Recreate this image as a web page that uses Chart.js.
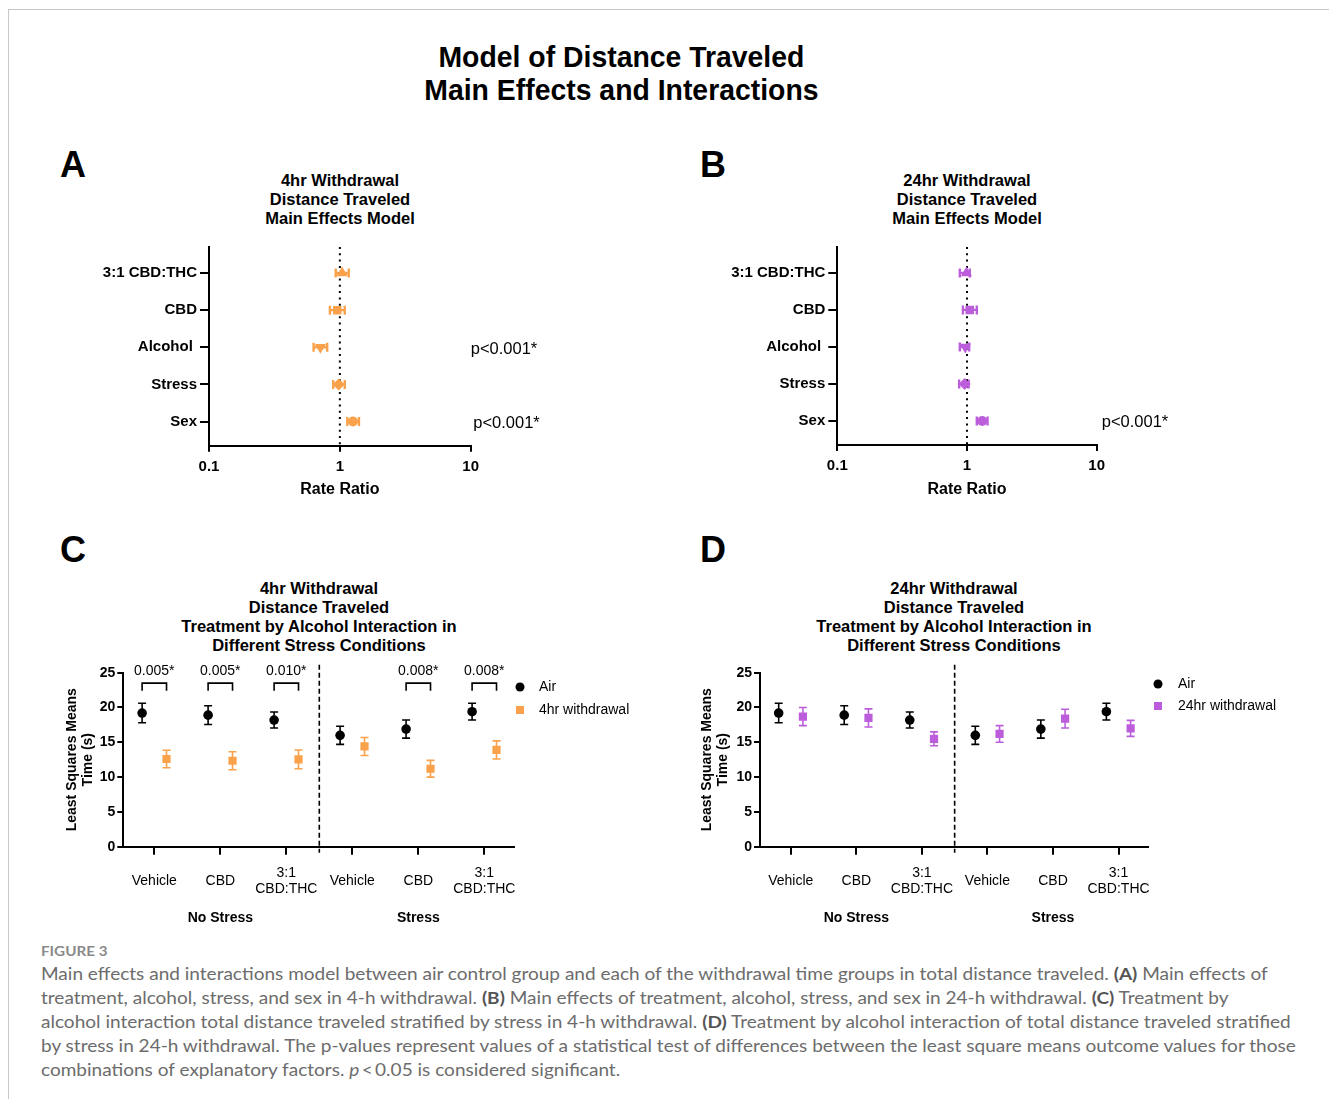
<!DOCTYPE html>
<html>
<head>
<meta charset="utf-8">
<title>Model of Distance Traveled</title>
<script src="https://cdn.jsdelivr.net/npm/chart.js@4.4.1/dist/chart.umd.min.js"></script>
<style>
  html, body { margin:0; padding:0; background:#ffffff; }
  body { width:1329px; height:1099px; position:relative; overflow:hidden; font-family:'Liberation Sans', Arial, Helvetica, sans-serif; color:#000; }
  .frame-top { position:absolute; left:8px; top:9px; width:1321px; height:1px; background:#c8c8c8; }
  .frame-left { position:absolute; left:8px; top:9px; width:1px; height:1090px; background:#c8c8c8; }
  .t { position:absolute; white-space:nowrap; }
  #mainTitle { left:0; width:1242px; top:40.5px; text-align:center; font-weight:bold; font-size:29px; line-height:33px; }
  #mainTitle span { display:inline-block; transform-origin:50% 50%; }
  .letter { font-weight:bold; font-size:36px; line-height:36px; }
  .ptitle { font-weight:bold; font-size:16.5px; line-height:19px; text-align:center; }
  canvas { position:absolute; }
  #caption { left:41px; top:940px; font-family:Lato, 'Open Sans', sans-serif; color:#6c6c6c; transform-origin:0 0; }
  #figLabel { font-size:14px; line-height:22px; color:#8a8a8a; font-weight:bold; }
  #capText { font-size:17.5px; line-height:24px; }
  #capText b { color:#555; }
</style>
</head>
<body>
<div class="frame-top"></div>
<div class="frame-left"></div>

<div id="mainTitle" class="t"><span id="mainTitleInner">Model of Distance Traveled<br>Main Effects and Interactions</span></div>

<div class="t letter" style="left:60px; top:147px;">A</div>
<div class="t letter" style="left:700px; top:147px;">B</div>
<div class="t letter" style="left:60px; top:532px;">C</div>
<div class="t letter" style="left:700px; top:532px;">D</div>

<div class="t ptitle" style="left:190px; width:300px; top:170.5px;">4hr Withdrawal<br>Distance Traveled<br>Main Effects Model</div>
<div class="t ptitle" style="left:817px; width:300px; top:170.5px;">24hr Withdrawal<br>Distance Traveled<br>Main Effects Model</div>
<div class="t ptitle" style="left:119px; width:400px; top:578.5px;">4hr Withdrawal<br>Distance Traveled<br>Treatment by Alcohol Interaction in<br>Different Stress Conditions</div>
<div class="t ptitle" style="left:754px; width:400px; top:578.5px;">24hr Withdrawal<br>Distance Traveled<br>Treatment by Alcohol Interaction in<br>Different Stress Conditions</div>

<canvas id="chartA" width="560" height="279" style="left:40px; top:231px; width:560px; height:279px;"></canvas>
<canvas id="chartB" width="560" height="279" style="left:670px; top:231px; width:560px; height:279px;"></canvas>
<canvas id="chartC" width="620" height="290" style="left:40px; top:650px; width:620px; height:290px;"></canvas>
<canvas id="chartD" width="620" height="290" style="left:675px; top:650px; width:620px; height:290px;"></canvas>

<div id="caption" class="t">
  <div id="figLabel">FIGURE 3</div>
  <div id="capText"><span id="capLine1">Main effects and interactions model between air control group and each of the withdrawal time groups in total distance traveled. <b>(A)</b> Main effects of</span><br>treatment, alcohol, stress, and sex in 4-h withdrawal. <b>(B)</b> Main effects of treatment, alcohol, stress, and sex in 24-h withdrawal. <b>(C)</b> Treatment by<br>alcohol interaction total distance traveled stratified by stress in 4-h withdrawal. <b>(D)</b> Treatment by alcohol interaction of total distance traveled stratified<br>by stress in 24-h withdrawal. The p-values represent values of a statistical test of differences between the least square means outcome values for those<br>combinations of explanatory factors. <i>p</i>&#8201;&lt;&#8201;0.05 is considered significant.</div>
</div>

<script>
// ---------------- DATA ----------------
const forestLabels = ['3:1 CBD:THC', 'CBD', 'Alcohol ', 'Stress', 'Sex'];
const rateTicks = [0.1, 1, 10];
const rr4 = [1.04, 0.955, 0.71, 0.98, 1.26];
const rr4Low = [0.93, 0.84, 0.63, 0.89, 1.14];
const rr4High = [1.17, 1.09, 0.80, 1.09, 1.40];
const rr24 = [0.99, 1.05, 0.97, 0.96, 1.31];
const rr24Low = [0.88, 0.93, 0.88, 0.87, 1.19];
const rr24High = [1.05, 1.19, 1.04, 1.03, 1.44];
const forestP4 = [null, null, 'p<0.001*', null, 'p<0.001*'];
const forestP24 = [null, null, null, null, 'p<0.001*'];

const treatments = ['Vehicle', 'CBD', ['3:1', 'CBD:THC'], 'Vehicle', 'CBD', ['3:1', 'CBD:THC']];
const stressGroups = ['No Stress', 'Stress'];
const yTicksLSM = [0, 5, 10, 15, 20, 25];
const airMean = [19.2, 18.9, 18.2, 16.0, 16.9, 19.4];
const airErr = [1.4, 1.35, 1.15, 1.3, 1.3, 1.2];
const w4Mean = [12.6, 12.35, 12.55, 14.4, 11.2, 13.9];
const w4Err = [1.25, 1.3, 1.35, 1.3, 1.2, 1.3];
const w24Mean = [18.7, 18.5, 15.5, 16.2, 18.4, 17.0];
const w24Err = [1.3, 1.3, 1.0, 1.2, 1.35, 1.15];
const pairP4 = ['0.005*', '0.005*', '0.010*', null, '0.008*', '0.008*'];
const pairP24 = [null, null, null, null, null, null];

// ---------------- STYLE ----------------
const FONT = "'Liberation Sans', Arial, Helvetica, sans-serif";
const ORANGE = '#FAA24B';
const PURPLE = '#BC5EDC';
Chart.defaults.font.family = FONT;
Chart.defaults.color = '#000';
Chart.defaults.animation = false;

const forestMarkers = ['triangle', 'rect', 'triangle', 'rectRot', 'circle'];
const forestRot = [0, 0, 180, 0, 0];
const forestRadius = [6.5, 6, 6.5, 6, 5];

// error bars drawn through the chart's own scales
const errorBarPlugin = {
  id: 'errorBars',
  beforeDatasetsDraw(chart) {
    const ctx = chart.ctx, xs = chart.scales.x, ys = chart.scales.y;
    chart.data.datasets.forEach(ds => {
      if (!ds.errorBars) return;
      ctx.save();
      ctx.strokeStyle = ds.borderColor;
      ctx.lineWidth = ds.errorLineWidth;
      const cap = ds.errorCap;
      ds.data.forEach((p, i) => {
        const lo = ds.errorBars[i][0], hi = ds.errorBars[i][1];
        ctx.beginPath();
        if (ds.errorAxis === 'x') {
          const y = ys.getPixelForValue(p.y), a = xs.getPixelForValue(lo), b = xs.getPixelForValue(hi);
          ctx.moveTo(a, y); ctx.lineTo(b, y);
          ctx.moveTo(a, y - cap); ctx.lineTo(a, y + cap);
          ctx.moveTo(b, y - cap); ctx.lineTo(b, y + cap);
        } else {
          const x = xs.getPixelForValue(p.x), a = ys.getPixelForValue(lo), b = ys.getPixelForValue(hi);
          ctx.moveTo(x, a); ctx.lineTo(x, b);
          ctx.moveTo(x - cap, a); ctx.lineTo(x + cap, a);
          ctx.moveTo(x - cap, b); ctx.lineTo(x + cap, b);
        }
        ctx.stroke();
      });
      ctx.restore();
    });
  }
};

const refLinePlugin = {
  id: 'refLine',
  beforeDatasetsDraw(chart) {
    const ctx = chart.ctx, ca = chart.chartArea, xs = chart.scales.x;
    const px = xs.getPixelForValue(1);
    ctx.save();
    ctx.strokeStyle = '#000';
    ctx.lineWidth = 2;
    ctx.setLineDash([2, 4.3]);
    ctx.beginPath();
    ctx.moveTo(px, ca.top);
    ctx.lineTo(px, ca.bottom);
    ctx.stroke();
    ctx.restore();
  }
};

function forestPPlugin(texts, dx) {
  return {
    id: 'forestP',
    afterDraw(chart) {
      const ctx = chart.ctx, ca = chart.chartArea, ys = chart.scales.y;
      const n = forestLabels.length;
      ctx.save();
      ctx.font = '16.5px ' + FONT;
      ctx.fillStyle = '#000';
      ctx.textAlign = 'left';
      ctx.textBaseline = 'middle';
      texts.forEach((t, i) => {
        if (!t) return;
        ctx.fillText(t, ca.right + dx[i], ys.getPixelForValue(n - i) + 2);
      });
      ctx.restore();
    }
  };
}

function forestChart(id, vals, lows, highs, color, pTexts, pDx, geo) {
  const n = forestLabels.length;
  return new Chart(document.getElementById(id), {
    type: 'scatter',
    data: {
      datasets: [{
        label: id,
        data: vals.map((v, i) => ({ x: v, y: n - i })),
        errorBars: lows.map((l, i) => [l, highs[i]]),
        errorAxis: 'x',
        errorLineWidth: 2.4,
        errorCap: 4.5,
        backgroundColor: color,
        borderColor: color,
        borderWidth: 0,
        pointStyle: forestMarkers,
        rotation: forestRot,
        pointRadius: forestRadius
      }]
    },
    options: {
      responsive: false,
      animation: false,
      events: [],
      layout: { padding: { left: 0, top: geo.top, right: geo.right, bottom: 0 } },
      plugins: { legend: { display: false }, tooltip: { enabled: false }, title: { display: false } },
      scales: {
        x: {
          type: 'logarithmic', min: 0.1, max: 10,
          afterBuildTicks: s => { s.ticks = rateTicks.map(v => ({ value: v })); },
          afterFit: s => { s.height = geo.xh; },
          ticks: { callback: v => String(v), font: { size: 15, weight: 'bold' }, padding: 6, maxRotation: 0, autoSkip: false },
          grid: { drawOnChartArea: false, drawTicks: true, tickLength: 6, color: '#000', lineWidth: 2 },
          border: { display: true, color: '#000', width: 2 },
          title: { display: true, text: 'Rate Ratio', font: { size: 16, weight: 'bold' }, padding: { top: 0, bottom: 10.5 } }
        },
        y: {
          type: 'linear', min: 0.35, max: 5.7,
          afterBuildTicks: s => { s.ticks = forestLabels.map((l, i) => ({ value: n - i })); },
          afterFit: s => { s.width = geo.yw; },
          ticks: { callback: v => forestLabels[n - v], font: { size: 15, weight: 'bold' }, padding: 3, autoSkip: false },
          grid: { drawOnChartArea: false, drawTicks: true, tickLength: 9, color: '#000', lineWidth: 2 },
          border: { display: true, color: '#000', width: 2 }
        }
      }
    },
    plugins: [errorBarPlugin, refLinePlugin, forestPPlugin(pTexts, pDx)]
  });
}

const OFF = 0.185;

function interactionPlugin(pairTexts, wLabel, wColor, leg) {
  return {
    id: 'interactionDecor',
    afterDraw(chart) {
      const ctx = chart.ctx, ca = chart.chartArea, xs = chart.scales.x, ys = chart.scales.y;
      ctx.save();
      // divider between stress groups
      const dx = xs.getPixelForValue(2.5);
      ctx.strokeStyle = '#000';
      ctx.lineWidth = 1.6;
      ctx.setLineDash([5, 3]);
      ctx.beginPath();
      ctx.moveTo(dx, ca.top - 8);
      ctx.lineTo(dx, ca.bottom + 6);
      ctx.stroke();
      ctx.setLineDash([]);
      // brackets with p-values
      ctx.lineWidth = 1.6;
      ctx.font = '14px ' + FONT;
      ctx.fillStyle = '#000';
      ctx.textAlign = 'center';
      ctx.textBaseline = 'middle';
      pairTexts.forEach((t, i) => {
        if (!t) return;
        const xa = xs.getPixelForValue(i - OFF), xb = xs.getPixelForValue(i + OFF);
        const yt = ys.getPixelForValue(23.5), yl = ys.getPixelForValue(22.4);
        ctx.beginPath();
        ctx.moveTo(xa, yl); ctx.lineTo(xa, yt); ctx.lineTo(xb, yt); ctx.lineTo(xb, yl);
        ctx.stroke();
        ctx.fillText(t, (xa + xb) / 2, ys.getPixelForValue(25.2));
      });
      // group labels
      ctx.font = 'bold 14px ' + FONT;
      stressGroups.forEach((g, k) => {
        ctx.fillText(g, xs.getPixelForValue(1 + 3 * k), ca.bottom + 71.3);
      });
      // legend
      const lx = ca.right + leg.dx, ly = ca.top + leg.dy;
      ctx.fillStyle = '#000';
      ctx.beginPath();
      ctx.arc(lx, ly, 4.5, 0, Math.PI * 2);
      ctx.fill();
      ctx.fillStyle = wColor;
      ctx.fillRect(lx - 4, ly + leg.gap - 4, 8, 8);
      ctx.fillStyle = '#000';
      ctx.font = '14px ' + FONT;
      ctx.textAlign = 'left';
      ctx.fillText('Air', lx + leg.tx, ly);
      ctx.fillText(wLabel, lx + leg.tx, ly + leg.gap);
      ctx.restore();
    }
  };
}

function interactionChart(id, wMean, wErr, wColor, wLabel, pairTexts, geo, leg) {
  return new Chart(document.getElementById(id), {
    type: 'scatter',
    data: {
      datasets: [
        {
          label: 'Air',
          data: airMean.map((m, i) => ({ x: i - OFF, y: m })),
          errorBars: airMean.map((m, i) => [m - airErr[i], m + airErr[i]]),
          errorAxis: 'y', errorLineWidth: 1.6, errorCap: 4,
          backgroundColor: '#000', borderColor: '#000', borderWidth: 0,
          pointStyle: 'circle', pointRadius: 4.8
        },
        {
          label: wLabel,
          data: wMean.map((m, i) => ({ x: i + OFF, y: m })),
          errorBars: wMean.map((m, i) => [m - wErr[i], m + wErr[i]]),
          errorAxis: 'y', errorLineWidth: 1.6, errorCap: 4,
          backgroundColor: wColor, borderColor: wColor, borderWidth: 0,
          pointStyle: 'rect', pointRadius: 5.8
        }
      ]
    },
    options: {
      responsive: false,
      animation: false,
      events: [],
      layout: { padding: { left: 0, top: geo.top, right: geo.right, bottom: 0 } },
      plugins: { legend: { display: false }, tooltip: { enabled: false }, title: { display: false } },
      scales: {
        x: {
          type: 'linear', min: -0.47, max: 5.45,
          afterBuildTicks: s => { s.ticks = treatments.map((t, i) => ({ value: i })); },
          afterFit: s => { s.height = geo.xh; },
          ticks: { callback: v => treatments[v], font: { size: 14 }, padding: 18, crossAlign: 'center', maxRotation: 0, autoSkip: false },
          grid: { drawOnChartArea: false, drawTicks: true, tickLength: 8, color: '#000', lineWidth: 2 },
          border: { display: true, color: '#000', width: 2 }
        },
        y: {
          type: 'linear', min: 0, max: 25,
          afterBuildTicks: s => { s.ticks = yTicksLSM.map(v => ({ value: v })); },
          afterFit: s => { s.width = geo.yw; },
          ticks: { font: { size: 14, weight: 'bold' }, padding: 2 },
          grid: { drawOnChartArea: false, drawTicks: true, tickLength: 6, color: '#000', lineWidth: 2 },
          border: { display: true, color: '#000', width: 2 },
          title: { display: true, text: ['Least Squares Means', 'Time (s)'], font: { size: 14, weight: 'bold' }, padding: { top: 23.3, bottom: 0 } }
        }
      }
    },
    plugins: [errorBarPlugin, interactionPlugin(pairTexts, wLabel, wColor, leg)]
  });
}

forestChart('chartA', rr4, rr4Low, rr4High, ORANGE, forestP4, [0, 0, 0, 0, 2.5], { top: 16, right: 129.3, yw: 169, xh: 64.3 });
forestChart('chartB', rr24, rr24Low, rr24High, PURPLE, forestP24, [0, 0, 0, 0, 5], { top: 16, right: 133.3, yw: 167.3, xh: 65 });
interactionChart('chartC', w4Mean, w4Err, ORANGE, '4hr withdrawal', pairP4, { top: 22.7, right: 146, yw: 83.3, xh: 93.3 }, { dx: 6, dy: 14.3, gap: 23, tx: 19 });
interactionChart('chartD', w24Mean, w24Err, PURPLE, '24hr withdrawal', pairP24, { top: 22.7, right: 147, yw: 85, xh: 93.3 }, { dx: 10, dy: 11.3, gap: 22, tx: 20 });

// fit title and caption widths to the reference layout (offsetWidth ignores transforms)
function fitText() {
  const mt = document.getElementById('mainTitleInner');
  const probe = document.createElement('span');
  probe.style.cssText = 'position:absolute;visibility:hidden;white-space:nowrap;font-weight:bold;font-size:29px;font-family:' + FONT;
  probe.textContent = 'Model of Distance Traveled';
  document.body.appendChild(probe);
  const w = probe.offsetWidth;
  probe.remove();
  if (w > 0) mt.style.transform = 'scaleX(' + (366 / w) + ')';
  const cw = document.getElementById('capLine1').offsetWidth;
  if (cw > 0) document.getElementById('caption').style.transform = 'scaleX(' + (1227 / cw) + ')';
}
fitText();
if (document.fonts && document.fonts.ready) { document.fonts.ready.then(fitText); }
</script>
</body>
</html>
